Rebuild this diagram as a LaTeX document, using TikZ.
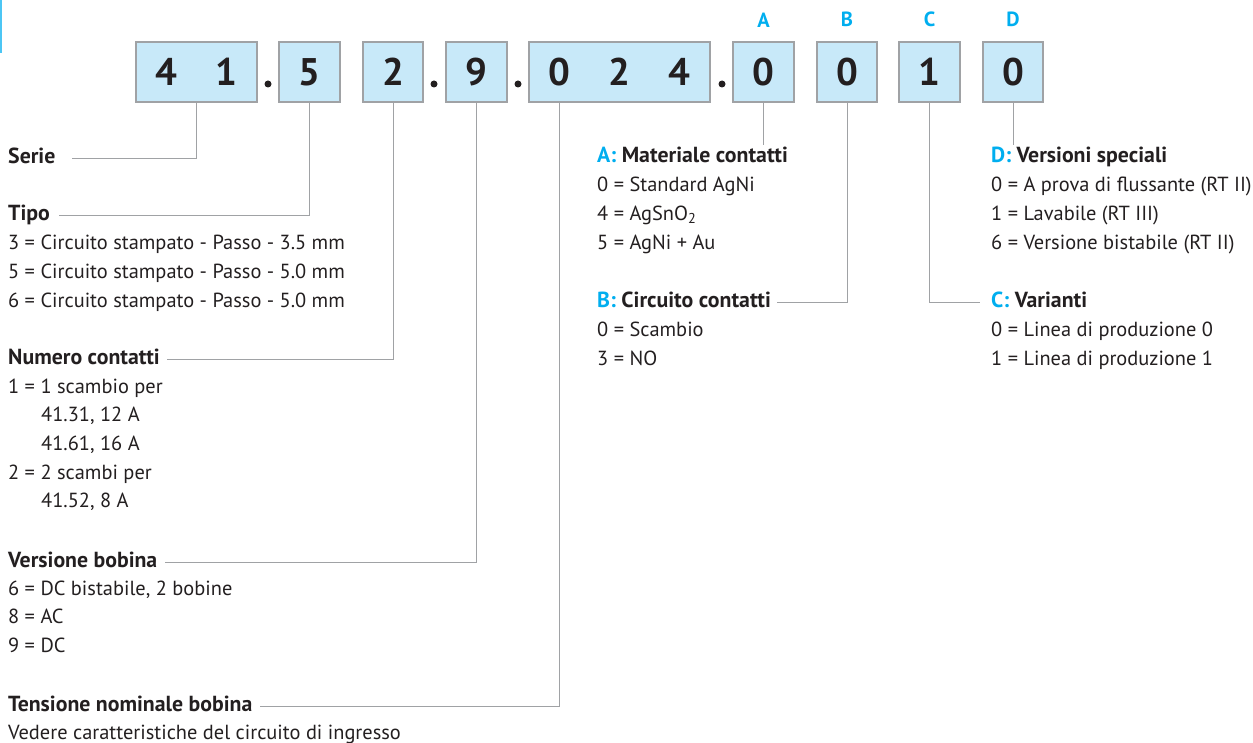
\documentclass[tikz,border=0pt]{standalone}
\usepackage{fontspec}
\setmainfont{PT Sans}
\usetikzlibrary{positioning}

\definecolor{cellblue}{HTML}{C8E9F9}
\definecolor{cellgray}{HTML}{A0A2A5}
\definecolor{codecyan}{HTML}{00AEEF}
\definecolor{ink}{HTML}{231F20}

\begin{document}
\begin{tikzpicture}[
  x=1pt, y=-1pt,
  cell/.style={rectangle, draw=cellgray, fill=cellblue, line width=1.2pt, minimum width=61pt,
               minimum height=60pt, inner sep=0pt, font=\fontsize{38.5}{38.5}\selectfont\bfseries, text=ink},
  sep/.style={circle, fill=ink, inner sep=0pt, minimum size=7pt},
  key/.style={inner sep=0pt, font=\fontsize{20.5}{20.5}\selectfont\bfseries, text=codecyan},
  head/.style={anchor=base west, inner sep=0pt, font=\fontsize{21.8}{24}\selectfont\bfseries, text=ink},
  item/.style={anchor=base west, inner sep=0pt, font=\fontsize{20.4}{24}\selectfont, text=ink},
  conn/.style={draw=cellgray, line width=1pt}
]
\useasboundingbox (0,0) rectangle (1253,743);
\fill[codecyan!70] (0,0) rectangle (1.5,53);

% code boxes
\node[cell, minimum width=121pt] (c41) at (196.5,72) {\makebox[60.5pt]{4}\makebox[60.5pt]{1}};
\node[cell] (c5) at (309.5,72) {5};
\node[cell, minimum width=60pt] (c2) at (393,72) {2};
\node[cell] (c9) at (476.5,72) {9};
\node[cell, minimum width=181pt] (c024) at (619.5,72) {\makebox[60.3pt]{0}\makebox[60.3pt]{2}\makebox[60.3pt]{4}};
\node[cell] (cA) at (763.5,72) {0};
\node[cell, minimum width=60pt] (cB) at (847,72) {0};
\node[cell] (cC) at (929.5,72) {1};
\node[cell, minimum width=60pt] (cD) at (1013,72) {0};

% dots
\node[sep] (d1) at (268,84) {};
\node[sep] (d2) at (434,84) {};
\node[sep] (d3) at (518,84) {};
\node[sep] (d4) at (722,84) {};

% letters
\node[key, above=14pt of cA] (kA) {A};
\node[key, above=14pt of cB] (kB) {B};
\node[key, above=14pt of cC] (kC) {C};
\node[key, above=14pt of cD] (kD) {D};

% left column
\node[head] (serie) at (8,164) {Serie};
\node[head] (tipo) at (8,221) {Tipo};
\foreach \t [count=\i from 0] in {3 = Circuito stampato - Passo - 3.5 mm,
    5 = Circuito stampato - Passo - 5.0 mm, 6 = Circuito stampato - Passo - 5.0 mm}
  \node[item] (tipo\i) at (8,250+28.7*\i) {\t};
\node[head] (numero) at (8,364) {Numero contatti};
\foreach \x/\t [count=\i from 0] in {8/{1 = 1 scambio per}, 41/{41.31, 12 A}, 41/{41.61, 16 A},
    8/{2 = 2 scambi per}, 41/{41.52, 8 A}}
  \node[item] (numero\i) at (\x,393+28.7*\i) {\t};
\node[head] (bobina) at (8,567) {Versione bobina};
\foreach \t [count=\i from 0] in {{6 = DC bistabile, 2 bobine}, 8 = AC, 9 = DC}
  \node[item] (bobina\i) at (8,595+28.7*\i) {\t};
\node[head] (tensione) at (8,711.5) {Tensione nominale bobina};
\node[item] (tensione0) at (8,739.5) {Vedere caratteristiche del circuito di ingresso};

% middle column
\node[head] (matA) at (597,163) {\textcolor{codecyan}{A:} Materiale contatti};
\foreach \t [count=\i from 0] in {0 = Standard AgNi, 4 = AgSnO\textsubscript{2}, 5 = AgNi + Au}
  \node[item] (matA\i) at (597,192+28.7*\i) {\t};
\node[head] (circB) at (597,308) {\textcolor{codecyan}{B:} Circuito contatti};
\foreach \t [count=\i from 0] in {0 = Scambio, 3 = NO}
  \node[item] (circB\i) at (597,336.7+28.7*\i) {\t};

% right column
\node[head] (versD) at (991,163) {\textcolor{codecyan}{D:} Versioni speciali};
\foreach \t [count=\i from 0] in {0 = A prova di flussante (RT II), 1 = Lavabile (RT III),
    6 = Versione bistabile (RT II)}
  \node[item] (versD\i) at (991,192+28.7*\i) {\t};
\node[head] (varC) at (991,308) {\textcolor{codecyan}{C:} Varianti};
\foreach \t [count=\i from 0] in {0 = Linea di produzione 0, 1 = Linea di produzione 1}
  \node[item] (varC\i) at (991,336.7+28.7*\i) {\t};

% leader lines
\draw[conn] (c41.south) |- ([shift={(16,-5)}]serie.base east);
\draw[conn] (c5.south) |- ([shift={(9,-5)}]tipo.base east);
\draw[conn] (c2.south) |- ([shift={(7,-5)}]numero.base east);
\draw[conn] (c9.south) |- ([shift={(7,-5)}]bobina.base east);
\draw[conn] ([xshift=-60.5pt]c024.south) |- ([shift={(7,-5)}]tensione.base east);
\draw[conn] (cA.south) -- ([yshift=2pt]cA.south |- matA.north);
\draw[conn] (cB.south) |- ([shift={(6,-5)}]circB.base east);
\draw[conn] (cC.south) |- ([shift={(-11,-5)}]varC.base west);
\draw[conn] (cD.south) -- ([yshift=2pt]cD.south |- versD.north);
\end{tikzpicture}
\end{document}
